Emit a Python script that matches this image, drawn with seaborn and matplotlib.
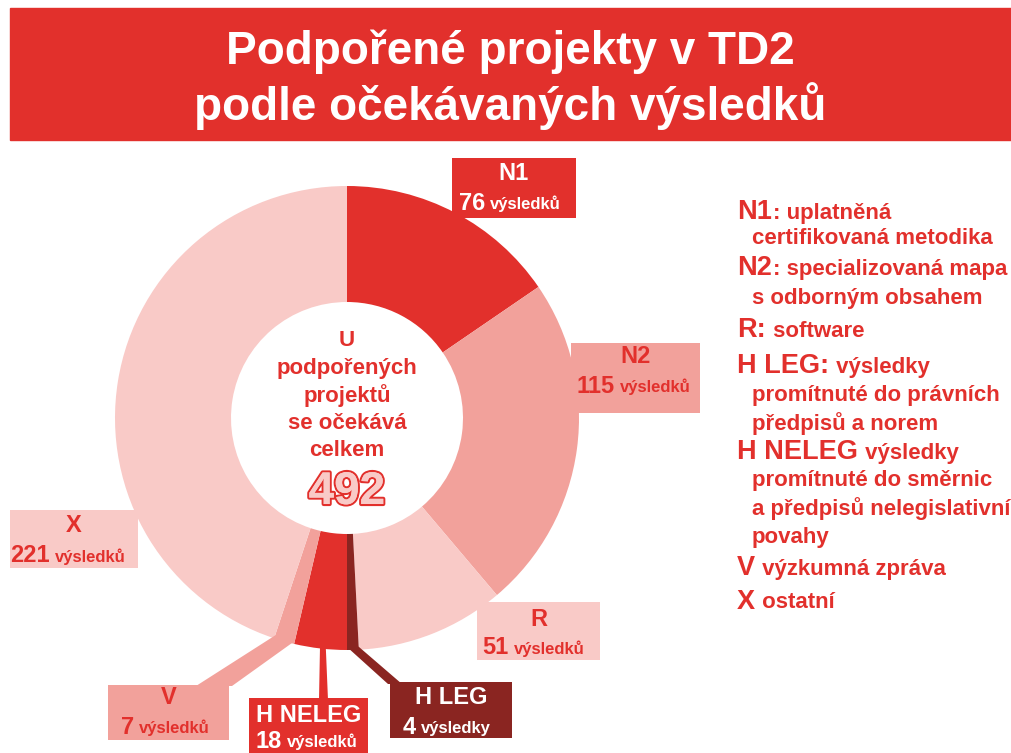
import numpy as np
import matplotlib
matplotlib.use("Agg")
import matplotlib.pyplot as plt
import matplotlib.patheffects as pe
from matplotlib.patches import Rectangle, Polygon
import seaborn as sns
from matplotlib import font_manager

# ---------------- data ----------------
categories = ["N1", "N2", "R", "H LEG", "H NELEG", "V", "X"]
values = [76, 115, 51, 4, 18, 7, 221]
unit_labels = ["výsledků", "výsledků", "výsledků", "výsledky", "výsledků", "výsledků", "výsledků"]
total = 492
title_lines = ["Podpořené projekty v TD2", "podle očekávaných výsledků"]
center_lines = ["U", "podpořených", "projektů", "se očekává", "celkem"]
legend_keys = ["N1", "N2", "R:", "H LEG:", "H NELEG", "V", "X"]
legend_desc = [
    [": uplatněná", "certifikovaná metodika"],
    [": specializovaná mapa", "s odborným obsahem"],
    [" software"],
    [" výsledky", "promítnuté do právních", "předpisů a norem"],
    [" výsledky", "promítnuté do směrnic", "a předpisů nelegislativní", "povahy"],
    [" výzkumná zpráva"],
    [" ostatní"],
]

RED = "#E2302C"
SALMON = "#F2A19B"
PINK = "#F9CAC7"
DARK = "#8A2521"
palette = sns.color_palette([RED, SALMON, PINK, DARK, RED, SALMON, PINK])

sns.set_theme(style="white")
installed = {f.name for f in font_manager.fontManager.ttflist}
NARROW = ["Liberation Sans Narrow", "Liberation Sans", "DejaVu Sans"] if "Liberation Sans Narrow" in installed else ["Liberation Sans", "DejaVu Sans"]
WIDE = ["Liberation Sans", "DejaVu Sans"]
plt.rcParams["font.family"] = WIDE

fig = plt.figure(figsize=(10.12, 7.53), dpi=100)
ax = fig.add_axes([0, 0, 1, 1])

CX, CY, R_OUT, R_IN = 347, 418, 232, 116
wedges, _ = ax.pie(values, colors=palette, startangle=-90, counterclock=True,
                   radius=R_OUT, center=(CX, CY),
                   wedgeprops=dict(width=R_OUT - R_IN, edgecolor="none", linewidth=0))
ax.set_xlim(0, 1012)
ax.set_ylim(753, 0)
ax.set_aspect("equal")
ax.axis("off")

# title bar
ax.add_patch(Rectangle((10, 8), 1002, 132, color=RED, zorder=1))
ax.text(510, 52, title_lines[0], ha="center", va="center", color="white",
        fontsize=33, fontweight="bold", family=NARROW, zorder=2)
ax.text(510, 106, title_lines[1], ha="center", va="center", color="white",
        fontsize=33, fontweight="bold", family=NARROW, zorder=2)

# center text
center_y = [340, 368, 396, 423, 450]
for line, y in zip(center_lines, center_y):
    ax.text(CX, y, line, ha="center", va="center", color=RED,
            fontsize=16, fontweight="bold", family=WIDE)
ax.text(CX, 492, str(total), ha="center", va="center", color=PINK,
        fontsize=33, fontweight="bold", family=NARROW,
        path_effects=[pe.withStroke(linewidth=3, foreground=RED), pe.Normal()])

# edge points of slices (data coords, y down => visually clockwise from top)
cum = np.cumsum([0] + values)
def edge_point(frac, r):
    th = np.deg2rad(-90 + frac * 360)
    return CX + r * np.cos(th), CY + r * np.sin(th)

iHL, iHN, iV = 3, 4, 5
# H LEG leader
a = edge_point(cum[iHL] / total, R_OUT - 3)
b = edge_point(cum[iHL + 1] / total, R_OUT - 3)
ax.add_patch(Polygon([a, b, (388, 684), (402, 684)], closed=True, color=DARK, lw=0, zorder=1))
# H NELEG leader
m = (cum[iHN] + cum[iHN + 1]) / 2 / total
p1 = edge_point(m - 0.0035, R_OUT - 3)
p2 = edge_point(m + 0.0005, R_OUT - 3)
ax.add_patch(Polygon([p1, p2, (319, 700), (328, 700)], closed=True, color=RED, lw=0, zorder=1))
# V leader
a = edge_point(cum[iV] / total, R_OUT - 3)
b = edge_point(cum[iV + 1] / total, R_OUT - 3)
ax.add_patch(Polygon([a, b, (196, 686), (232, 686)], closed=True, color=SALMON, lw=0, zorder=1))

# label boxes: (x0, y0, x1, y1, facecolor, textcolor, key_y, num_y, num_right_x)
boxes = {
    "N1": (452, 158, 576, 218, RED, "white", 173, 203, 485),
    "N2": (571, 343, 700, 413, SALMON, RED, 356, 386, 615),
    "R": (477, 602, 600, 660, PINK, RED, 620, 648, 509),
    "H LEG": (390, 682, 512, 738, DARK, "white", 697, 727, 416),
    "H NELEG": (249, 698, 368, 760, RED, "white", 716, 741, 282),
    "V": (108, 685, 229, 740, SALMON, RED, 697, 727, 134),
    "X": (10, 510, 138, 568, PINK, RED, 525, 556, 50),
}
for cat, val, unit in zip(categories, values, unit_labels):
    x0, y0, x1, y1, fc, tc, ky, ny, nx = boxes[cat]
    ax.add_patch(Rectangle((x0, y0), x1 - x0, y1 - y0, color=fc, lw=0, zorder=2))
    ax.text((x0 + x1) / 2, ky, cat, ha="center", va="center", color=tc,
            fontsize=17, fontweight="bold", family=NARROW, zorder=3)
    ax.text(nx, ny, str(val), ha="right", va="center", color=tc,
            fontsize=17, fontweight="bold", family=NARROW, zorder=3)
    ax.text(nx + 5, ny + 1, unit, ha="left", va="center", color=tc,
            fontsize=12, fontweight="bold", family=NARROW, zorder=3)

# legend on the right
fig.canvas.draw()
renderer = fig.canvas.get_renderer()
inv = ax.transData.inverted()
key_y = [212, 268, 330, 366, 452, 568, 602]
line_step = [26, 30, 0, 29, 28.5, 0, 0]
for key, descs, y, step in zip(legend_keys, legend_desc, key_y, line_step):
    t = ax.text(737, y, key, ha="left", va="center", color=RED,
                fontsize=19.5, fontweight="bold", family=WIDE)
    bb = t.get_window_extent(renderer)
    xr = inv.transform((bb.x1, bb.y0))[0]
    ax.text(xr + 1, y + 1, descs[0], ha="left", va="center", color=RED,
            fontsize=16, fontweight="bold", family=WIDE)
    for j, d in enumerate(descs[1:], start=1):
        ax.text(752, y + j * step, d, ha="left", va="center", color=RED,
                fontsize=16, fontweight="bold", family=WIDE)

fig.savefig("out.png", dpi=100, facecolor="white")
